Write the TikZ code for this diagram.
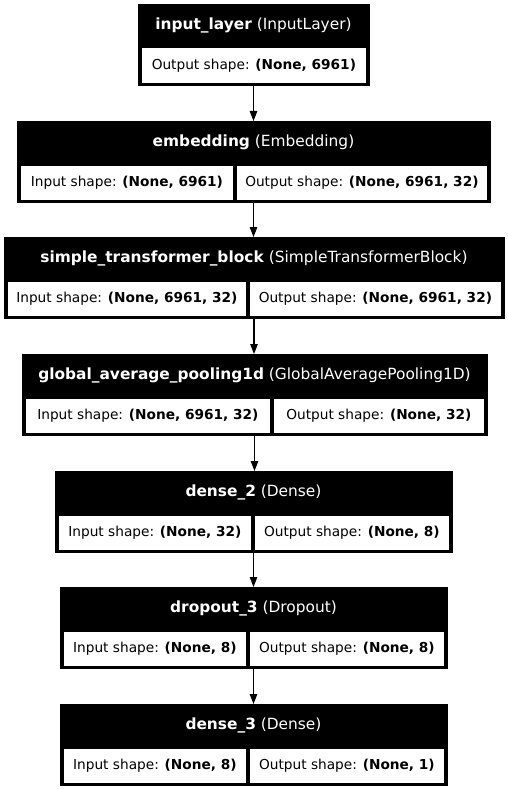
\documentclass[tikz,border=0pt]{standalone}
\usepackage{fontspec}
\setmainfont{DejaVu Sans}
\usetikzlibrary{arrows.meta,positioning}
\newcommand{\headfont}{\fontsize{15.4}{18}\selectfont}
\newcommand{\cellfont}{\fontsize{13.7}{16}\selectfont}
\newcommand{\lname}[2]{\textbf{#1} (#2)}
\newcommand{\shp}[2]{#1 shape: \textbf{(#2)}}
\tikzset{
  layerbox/.style={draw=black, fill=black, line width=1pt, inner sep=0pt,
                   minimum height=81pt, anchor=north},
  headtext/.style={text=white, font=\headfont, inner sep=0pt, anchor=base},
  cellbox/.style={draw=black, fill=white, line width=0.8pt, inner sep=0pt,
                  minimum height=35.5pt, anchor=north west, font=\cellfont},
  arr/.style={-{Stealth[length=10pt, width=7.5pt, inset=0pt]}, line width=1.3pt}}

\begin{document}
\begin{tikzpicture}[x=1pt, y=-1pt]
  \useasboundingbox (0,0) rectangle (508,789);
  % input layer
  \node[layerbox, minimum width=231pt] (inl) at (253.5,4) {};
  \node[headtext] (inlhead) at (253.5,29.5) {\lname{input\_layer}{InputLayer}};
  \node[cellbox, minimum width=225pt] (inlout) at (141,47.5) {\shp{Output}{None, 6961}};
  % embedding
  \node[layerbox, minimum width=473pt] (emb) at (253.5,121) {};
  \node[headtext] (embhead) at (253.5,146.5) {\lname{embedding}{Embedding}};
  \node[cellbox, minimum width=213pt] (embin) at (20,164.5) {\shp{Input}{None, 6961}};
  \node[cellbox, minimum width=251pt] (embout) at (236,164.5) {\shp{Output}{None, 6961, 32}};
  % transformer block
  \node[layerbox, minimum width=500pt] (stb) at (254,237) {};
  \node[headtext] (stbhead) at (254,262.5) {\lname{simple\_transformer\_block}{SimpleTransformerBlock}};
  \node[cellbox, minimum width=239pt] (stbin) at (7,280.5) {\shp{Input}{None, 6961, 32}};
  \node[cellbox, minimum width=252pt] (stbout) at (249,280.5) {\shp{Output}{None, 6961, 32}};
  % pooling
  \node[layerbox, minimum width=465pt] (gap) at (254.5,354) {};
  \node[headtext] (gaphead) at (254.5,379.5) {\lname{global\_average\_pooling1d}{GlobalAveragePooling1D}};
  \node[cellbox, minimum width=245pt] (gapin) at (25,397.5) {\shp{Input}{None, 6961, 32}};
  \node[cellbox, minimum width=211pt] (gapout) at (273,397.5) {\shp{Output}{None, 32}};
  % dense 2
  \node[layerbox, minimum width=397pt] (dtwo) at (253.5,471) {};
  \node[headtext] (dtwohead) at (253.5,496.5) {\lname{dense\_2}{Dense}};
  \node[cellbox, minimum width=193pt] (dtwoin) at (58,514.5) {\shp{Input}{None, 32}};
  \node[cellbox, minimum width=195pt] (dtwoout) at (254,514.5) {\shp{Output}{None, 8}};
  % dropout
  \node[layerbox, minimum width=387pt] (drop) at (253.5,587) {};
  \node[headtext] (drophead) at (253.5,612.5) {\lname{dropout\_3}{Dropout}};
  \node[cellbox, minimum width=183pt] (dropin) at (63,630.5) {\shp{Input}{None, 8}};
  \node[cellbox, minimum width=195pt] (dropout) at (249,630.5) {\shp{Output}{None, 8}};
  % dense 3
  \node[layerbox, minimum width=387pt] (dthree) at (253.5,704) {};
  \node[headtext] (dthreehead) at (253.5,729.5) {\lname{dense\_3}{Dense}};
  \node[cellbox, minimum width=183pt] (dthreein) at (63,747.5) {\shp{Input}{None, 8}};
  \node[cellbox, minimum width=195pt] (dthreeout) at (249,747.5) {\shp{Output}{None, 1}};
  % connectors, kept vertical
  \draw[arr] (inl.south) -- (inl.south |- emb.north);
  \draw[arr] (emb.south) -- (emb.south |- stb.north);
  \draw[arr] (stb.south) -- (stb.south |- gap.north);
  \draw[arr] (gap.south) -- (gap.south |- dtwo.north);
  \draw[arr] (dtwo.south) -- (dtwo.south |- drop.north);
  \draw[arr] (drop.south) -- (drop.south |- dthree.north);
\end{tikzpicture}
\end{document}
